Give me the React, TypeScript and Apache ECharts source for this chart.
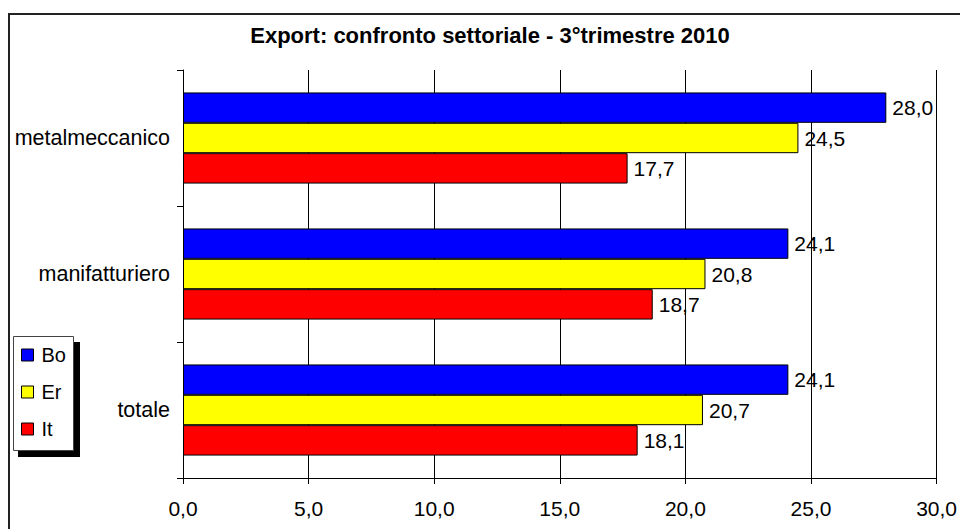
import React, { useEffect, useRef } from "react";
import * as echarts from "echarts";

const categories = ["metalmeccanico", "manifatturiero", "totale"];
const seriesNames = ["Bo", "Er", "It"];
const boValues = [28.0, 24.1, 24.1];
const erValues = [24.5, 20.8, 20.7];
const itValues = [17.7, 18.7, 18.1];
const seriesColors = ["#0000FF", "#FFFF00", "#FF0000"];
const titleText = "Export: confronto settoriale - 3°trimestre 2010";

const FONT = "'Liberation Sans', Arial, sans-serif";
const fmt = (v: number) => v.toFixed(1).replace(".", ",");

export default function App() {
  const ref = useRef<HTMLDivElement>(null);
  useEffect(() => {
    if (!ref.current) return;
    const chart = echarts.init(ref.current, undefined, { renderer: "svg" });
    const values = [boValues, erValues, itValues];
    chart.setOption({
      animation: false,
      backgroundColor: "#fff",
      textStyle: { fontFamily: FONT },
      title: {
        text: titleText,
        left: 490,
        textAlign: "center",
        top: 24,
        padding: 0,
        textStyle: { fontFamily: FONT, fontSize: 22, fontWeight: "bold", color: "#000" },
      },
      graphic: [
        {
          type: "rect",
          z: 0,
          shape: { x: 9, y: 14, width: 1000, height: 600 },
          style: { fill: "none", stroke: "#222", lineWidth: 2 },
        },
        {
          type: "rect",
          z: 5,
          shape: { x: 18, y: 342, width: 62, height: 115 },
          style: { fill: "#000" },
        },
        {
          type: "rect",
          z: 6,
          shape: { x: 13.5, y: 336.5, width: 60, height: 114 },
          style: { fill: "#fff", stroke: "#444", lineWidth: 1 },
        },
      ],
      legend: {
        data: seriesNames,
        orient: "vertical",
        left: 21,
        top: 345,
        padding: 0,
        itemGap: 17,
        itemWidth: 12,
        itemHeight: 12,
        icon: "rect",
        z: 10,
        itemStyle: { borderColor: "#000", borderWidth: 1 },
        textStyle: { fontFamily: FONT, fontSize: 20, color: "#000", padding: [0, 0, 0, 3] },
      },
      grid: { left: 183, right: 16, top: 70, bottom: 51, containLabel: false },
      xAxis: {
        type: "value",
        min: 0,
        max: 30,
        interval: 5,
        axisLine: { show: true, lineStyle: { color: "#000", width: 1 } },
        axisTick: { show: true, length: 6, lineStyle: { color: "#000" } },
        splitLine: { show: true, lineStyle: { color: "#000", width: 1 } },
        axisLabel: {
          formatter: (v: number) => fmt(v),
          fontFamily: FONT,
          fontSize: 21,
          color: "#000",
          margin: 20,
        },
      },
      yAxis: {
        type: "category",
        data: categories,
        inverse: true,
        axisLine: { show: true, lineStyle: { color: "#000", width: 1 } },
        axisTick: { show: true, length: 6, lineStyle: { color: "#000" } },
        splitLine: { show: false },
        axisLabel: { fontFamily: FONT, fontSize: 21.5, color: "#000", margin: 13 },
      },
      series: seriesNames.map((name, i) => ({
        name,
        type: "bar",
        data: values[i],
        barGap: "0%",
        barCategoryGap: "33%",
        itemStyle: { color: seriesColors[i], borderColor: "#000", borderWidth: 1 },
        label: {
          show: true,
          position: "right",
          distance: 6,
          formatter: (p: any) => fmt(p.value),
          fontFamily: FONT,
          fontSize: 21,
          color: "#000",
        },
      })),
    });
    return () => chart.dispose();
  }, []);
  return (
    <div
      ref={ref}
      style={{ position: "fixed", left: 0, top: 0, width: 960, height: 529 }}
    />
  );
}
